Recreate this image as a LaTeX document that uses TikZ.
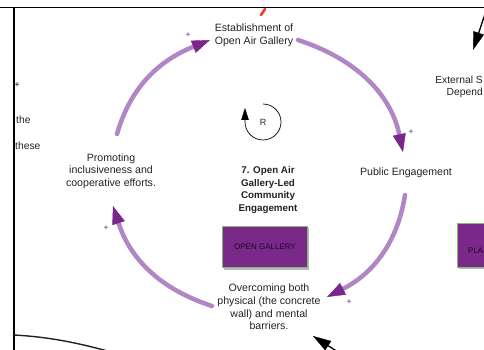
\documentclass[tikz,border=0pt]{standalone}
\usepackage{fontspec}
\setmainfont{Liberation Sans}
\usetikzlibrary{arrows.meta,shadows}

\definecolor{looparc}{RGB}{176,134,196}
\definecolor{loophead}{RGB}{122,38,140}
\definecolor{inktext}{RGB}{34,34,34}
\definecolor{boxfill}{RGB}{122,40,138}
\definecolor{boxedge}{RGB}{132,186,106}
\definecolor{boxtext}{RGB}{26,10,32}
\definecolor{framedark}{RGB}{30,32,45}
\definecolor{redmark}{RGB}{236,62,48}

\tikzset{
  varlabel/.style={align=center, text=inktext, inner sep=0pt,
    font=\fontsize{10.6}{12.6}\selectfont},
  looptitle/.style={align=center, text=inktext, inner sep=0pt,
    font=\fontsize{9.8}{12.7}\selectfont\bfseries},
  fragment/.style={text=inktext, inner sep=0pt,
    font=\fontsize{10.3}{12.6}\selectfont},
  looplink/.style={draw=looparc, line width=4.5pt, line cap=round,
    -{Triangle[length=18pt,width=13pt,color=loophead,line width=0.4pt]}},
  polarity/.style={text=loophead, inner sep=0pt, font=\fontsize{8.5}{9}\selectfont},
  stickybox/.style={fill=boxfill, draw=boxedge, line width=1.1pt, inner sep=0pt,
    text=boxtext, font=\fontsize{8}{9}\selectfont,
    drop shadow={shadow xshift=1.6pt, shadow yshift=-1.8pt, fill=black!28, opacity=1}},
  blackarrow/.style={draw=black, line width=1.3pt,
    -{Triangle[length=18pt,width=11pt,line width=0.4pt]}},
}

\begin{document}
\begin{tikzpicture}[x=1pt,y=1pt]
\useasboundingbox (0,0) rectangle (484,-350);
\clip (0,0) rectangle (484,-350);

% outer frame edges
\draw[line width=1.8pt] (0,-7.5) -- (484,-7.5);
\draw[line width=1.8pt] (14,-7.5) -- (14,-351);

% partial neighbours at the edges
\draw[redmark, line width=2.6pt, line cap=round] (265,-9) -- (261,-15);
\draw[framedark, line width=1.4pt] (14,-335) .. controls (50,-337) and (82,-343) .. (132,-358);
\node[inner sep=0pt, font=\fontsize{8.5}{9}\selectfont] (leftplus) at (17,-85.3) {+};
\node[fragment, anchor=west] (fragthe) at (16,-120) {the};
\node[fragment, anchor=west] (fragthese) at (15,-146) {these};
\node[fragment, anchor=east] (extone) at (483,-80) {External S};
\node[fragment, anchor=east] (exttwo) at (483,-93) {Depend};

\coordinate (extfrom) at (488,-5);
\coordinate (extto) at (473,-50);
\draw[blackarrow] (extfrom) -- (extto);
\coordinate (lowfrom) at (352,-361);
\coordinate (lowto) at (313,-336);
\draw[blackarrow] (lowfrom) -- (lowto);

\node[stickybox, anchor=north west, minimum width=60pt, minimum height=43.5pt] (plabox) at (457,-223) {};
\node[inner sep=0pt, anchor=west, text=boxtext, font=\fontsize{8}{9}\selectfont] (platext) at (468,-251) {PLA};

% loop variables
\node[varlabel] (estab) at (254,-35.5) {Establishment of\\Open Air Gallery};
\node[varlabel] (public) at (406,-173) {Public Engagement};
\node[varlabel] (overcome) at (269,-307) {Overcoming both\\physical (the concrete\\wall) and mental\\barriers.};
\node[varlabel] (promote) at (111,-171) {Promoting\\inclusiveness and\\cooperative efforts.};
\node[looptitle] (title) at (268,-190) {7. Open Air\\Gallery-Led\\Community\\Engagement};

\node[stickybox, minimum width=85pt, minimum height=41.5pt] (gallery) at (265,-247) {OPEN GALLERY};

% reinforcing loop marker
\node[inner sep=0pt, text=inktext, font=\fontsize{9}{10}\selectfont] (loopR) at (263,-122) {R};
\draw[line width=0.7pt, -{Triangle[length=12pt,width=7.5pt,line width=0.3pt]}]
  (263,-104) arc[start angle=90, end angle=-180, radius=18] -- ++(0,14);

% causal links
\coordinate (a1s) at (117,-134);
\coordinate (a1e) at (210,-40);
\coordinate (a2s) at (298,-40);
\coordinate (a2e) at (403,-152);
\coordinate (a3s) at (405,-195);
\coordinate (a3e) at (327,-297);
\coordinate (a4s) at (212,-306);
\coordinate (a4e) at (113,-206);
\draw[looplink] (a1s) to[out=74, in=202] (a1e);
\draw[looplink] (a2s) to[out=-18, in=102] (a2e);
\draw[looplink] (a3s) to[out=-99, in=27] (a3e);
\draw[looplink] (a4s) to[out=162, in=-72] (a4e);

\node[polarity] (p1) at (188,-35) {+};
\node[polarity] (p2) at (411,-132) {+};
\node[polarity] (p3) at (349,-302) {+};
\node[polarity] (p4) at (106,-228) {+};
\end{tikzpicture}
\end{document}
